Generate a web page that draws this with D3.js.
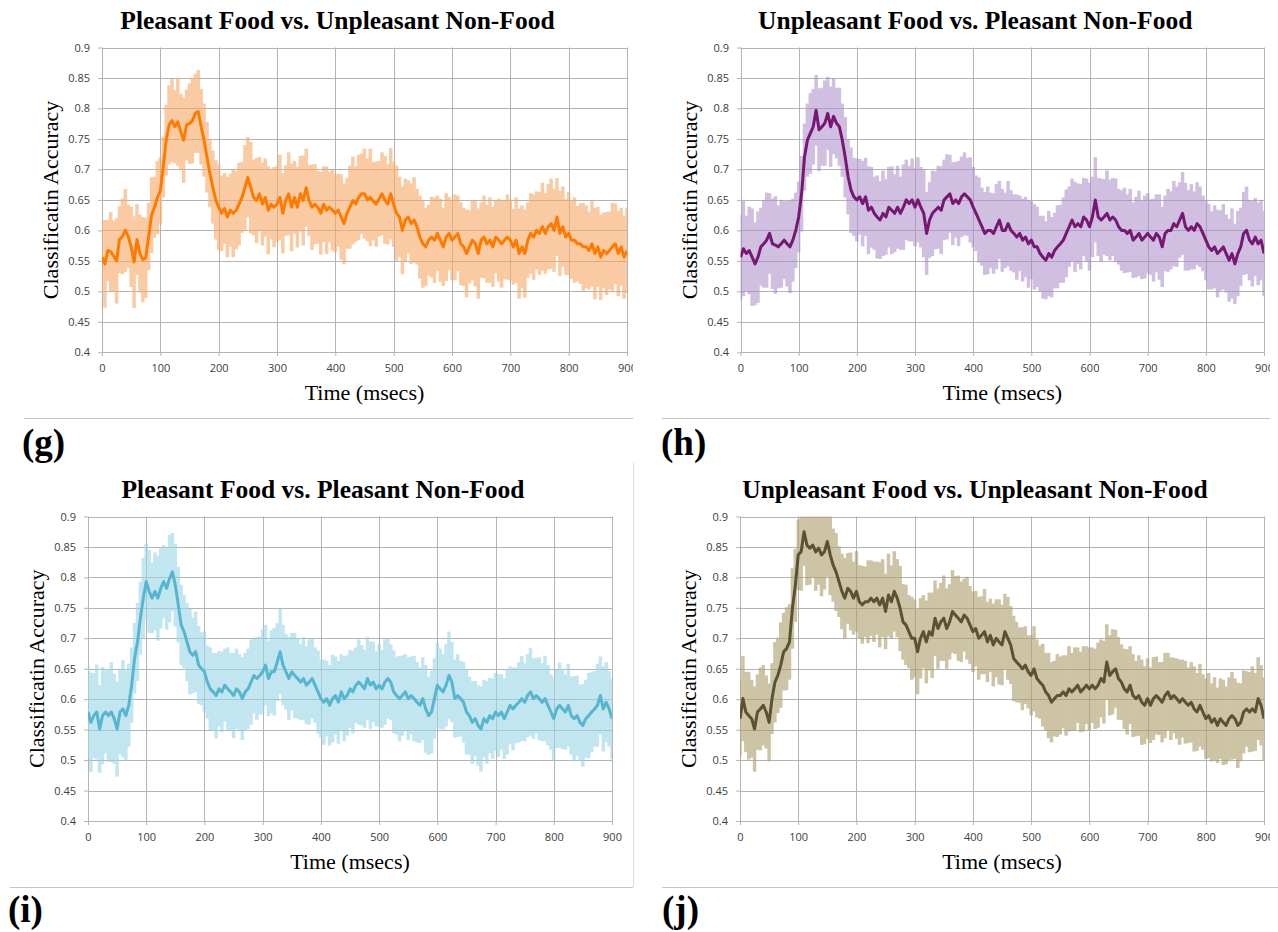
<!DOCTYPE html>
<html>
<head>
<meta charset="utf-8">
<script src="https://cdn.jsdelivr.net/npm/d3@7"></script>
<style>
  html, body { margin: 0; padding: 0; background: #ffffff; }
  svg { display: block; }
</style>
</head>
<body>
<svg id="fig" width="1278" height="932"></svg>
<script>
// ---- data ---------------------------------------------------------------
const sampleStep = 5; // ms between samples

const xTicks = [0, 100, 200, 300, 400, 500, 600, 700, 800, 900];
const xTickLabels = ["0", "100", "200", "300", "400", "500", "600", "700", "800", "900"];
const yTicks = [0.4, 0.45, 0.5, 0.55, 0.6, 0.65, 0.7, 0.75, 0.8, 0.85, 0.9];
const yTickLabels = ["0.4", "0.45", "0.5", "0.55", "0.6", "0.65", "0.7", "0.75", "0.8", "0.85", "0.9"];

const panelTitles = [
  "Pleasant Food vs. Unpleasant Non-Food",
  "Unpleasant Food vs. Pleasant Non-Food",
  "Pleasant Food vs. Pleasant Non-Food",
  "Unpleasant Food vs. Unpleasant Non-Food"
];
const panelTags = ["(g)", "(h)", "(i)", "(j)"];
const xAxisTitle = "Time (msecs)";
const yAxisTitle = "Classificatin Accuracy";

// (g) mean accuracy, one value every 5 ms from 0 to 900 ms
const meanG = [
  0.556,0.545,0.567,0.565,0.558,0.550,0.585,0.590,0.600,0.590,0.573,0.548,0.585,0.562,0.552,0.555,0.590,0.625,0.638,0.654,
  0.665,0.704,0.748,0.773,0.780,0.770,0.778,0.762,0.748,0.773,0.775,0.780,0.792,0.795,0.770,0.748,0.720,0.693,0.671,0.650,
  0.638,0.628,0.636,0.622,0.633,0.628,0.633,0.643,0.654,0.670,0.687,0.670,0.654,0.649,0.660,0.643,0.654,0.633,0.643,0.638,
  0.643,0.654,0.628,0.649,0.660,0.638,0.654,0.638,0.660,0.649,0.670,0.649,0.638,0.643,0.638,0.628,0.643,0.633,0.638,0.633,
  0.628,0.633,0.622,0.611,0.628,0.638,0.649,0.643,0.654,0.660,0.660,0.650,0.654,0.648,0.643,0.652,0.660,0.650,0.643,0.660,
  0.643,0.628,0.622,0.600,0.617,0.622,0.611,0.617,0.606,0.589,0.578,0.573,0.584,0.589,0.584,0.595,0.584,0.573,0.589,0.595,
  0.584,0.589,0.595,0.578,0.573,0.562,0.573,0.584,0.578,0.562,0.584,0.589,0.578,0.584,0.573,0.589,0.584,0.578,0.584,0.589,
  0.584,0.573,0.584,0.562,0.573,0.562,0.584,0.595,0.589,0.600,0.595,0.606,0.595,0.606,0.611,0.600,0.622,0.595,0.606,0.589,
  0.595,0.584,0.584,0.578,0.578,0.573,0.573,0.567,0.578,0.562,0.573,0.556,0.567,0.562,0.567,0.573,0.578,0.562,0.573,0.556,
  0.567
];
// (g) half-width of the spread around the mean
const errG = [
  0.060,0.072,0.050,0.065,0.058,0.070,0.055,0.062,0.068,0.052,0.066,0.075,0.058,0.064,0.070,0.066,0.055,0.062,0.050,0.060,
  0.055,0.050,0.058,0.065,0.068,0.060,0.072,0.062,0.070,0.058,0.066,0.070,0.065,0.068,0.062,0.060,0.058,0.055,0.060,0.065,
  0.070,0.062,0.058,0.066,0.060,0.072,0.064,0.068,0.058,0.070,0.066,0.075,0.062,0.070,0.060,0.068,0.064,0.072,0.058,0.066,
  0.062,0.070,0.066,0.058,0.068,0.072,0.060,0.066,0.062,0.074,0.064,0.058,0.070,0.066,0.060,0.068,0.062,0.072,0.058,0.066,
  0.064,0.060,0.070,0.066,0.058,0.068,0.072,0.062,0.070,0.066,0.074,0.068,0.080,0.064,0.070,0.062,0.068,0.072,0.066,0.075,
  0.070,0.078,0.066,0.072,0.068,0.060,0.066,0.070,0.062,0.068,0.072,0.064,0.058,0.066,0.070,0.062,0.068,0.064,0.072,0.060,
  0.066,0.070,0.062,0.068,0.064,0.072,0.060,0.066,0.070,0.074,0.062,0.068,0.064,0.070,0.066,0.060,0.068,0.072,0.064,0.070,
  0.066,0.062,0.070,0.074,0.068,0.072,0.062,0.066,0.070,0.064,0.068,0.072,0.066,0.070,0.074,0.068,0.064,0.070,0.066,0.062,
  0.068,0.064,0.070,0.062,0.066,0.072,0.068,0.064,0.070,0.075,0.066,0.070,0.062,0.068,0.064,0.072,0.066,0.070,0.064,0.068,
  0.070
];

// (h)
const meanH = [
  0.556,0.570,0.562,0.567,0.556,0.545,0.556,0.573,0.578,0.584,0.595,0.578,0.576,0.573,0.578,0.584,0.578,0.573,0.584,0.600,
  0.622,0.660,0.720,0.748,0.759,0.770,0.797,0.765,0.770,0.776,0.792,0.770,0.787,0.776,0.770,0.748,0.720,0.688,0.666,0.655,
  0.650,0.655,0.644,0.655,0.633,0.638,0.628,0.622,0.617,0.628,0.622,0.638,0.633,0.628,0.638,0.628,0.638,0.650,0.644,0.650,
  0.638,0.650,0.638,0.628,0.595,0.617,0.628,0.633,0.638,0.633,0.650,0.655,0.660,0.644,0.650,0.644,0.655,0.660,0.655,0.650,
  0.638,0.628,0.617,0.606,0.595,0.600,0.600,0.595,0.606,0.617,0.600,0.600,0.611,0.600,0.595,0.589,0.595,0.584,0.589,0.578,
  0.584,0.573,0.573,0.562,0.556,0.551,0.562,0.556,0.567,0.573,0.578,0.584,0.595,0.606,0.617,0.606,0.611,0.606,0.622,0.617,
  0.606,0.622,0.650,0.622,0.617,0.622,0.628,0.617,0.622,0.617,0.606,0.600,0.600,0.595,0.600,0.584,0.589,0.595,0.584,0.589,
  0.595,0.589,0.584,0.595,0.589,0.573,0.595,0.600,0.600,0.611,0.606,0.617,0.628,0.606,0.600,0.606,0.600,0.611,0.606,0.595,
  0.584,0.573,0.567,0.573,0.562,0.567,0.573,0.562,0.551,0.562,0.545,0.562,0.573,0.595,0.600,0.584,0.578,0.589,0.578,0.584,
  0.562
];
const errH = [
  0.070,0.078,0.062,0.072,0.080,0.068,0.075,0.064,0.072,0.078,0.066,0.074,0.080,0.068,0.072,0.064,0.070,0.076,0.068,0.062,
  0.058,0.062,0.055,0.060,0.066,0.062,0.058,0.068,0.064,0.070,0.060,0.066,0.062,0.058,0.064,0.060,0.066,0.062,0.070,0.064,
  0.068,0.062,0.070,0.064,0.072,0.066,0.060,0.068,0.064,0.070,0.062,0.066,0.072,0.064,0.068,0.060,0.070,0.066,0.062,0.068,
  0.064,0.070,0.066,0.072,0.068,0.062,0.070,0.064,0.068,0.072,0.066,0.070,0.064,0.068,0.062,0.070,0.066,0.068,0.064,0.070,
  0.066,0.062,0.070,0.064,0.068,0.072,0.062,0.066,0.070,0.064,0.068,0.062,0.070,0.066,0.064,0.070,0.062,0.068,0.066,0.072,
  0.064,0.070,0.066,0.062,0.068,0.064,0.070,0.066,0.062,0.068,0.064,0.070,0.072,0.066,0.068,0.074,0.066,0.070,0.064,0.068,
  0.072,0.066,0.070,0.064,0.068,0.062,0.070,0.066,0.064,0.068,0.062,0.066,0.070,0.064,0.068,0.062,0.066,0.070,0.064,0.068,
  0.066,0.062,0.068,0.064,0.070,0.066,0.062,0.068,0.064,0.070,0.066,0.062,0.068,0.072,0.066,0.070,0.064,0.068,0.066,0.062,
  0.066,0.070,0.064,0.068,0.072,0.066,0.070,0.064,0.068,0.074,0.066,0.070,0.064,0.068,0.072,0.066,0.070,0.064,0.068,0.066,
  0.070
];

// (i)
const meanI = [
  0.579,0.562,0.573,0.579,0.551,0.573,0.579,0.573,0.579,0.568,0.551,0.579,0.584,0.573,0.590,0.623,0.667,0.694,0.733,0.766,
  0.793,0.777,0.766,0.777,0.766,0.782,0.793,0.782,0.798,0.809,0.787,0.755,0.722,0.711,0.694,0.678,0.672,0.678,0.656,0.650,
  0.645,0.628,0.617,0.612,0.606,0.617,0.612,0.623,0.617,0.612,0.606,0.617,0.612,0.601,0.612,0.617,0.628,0.639,0.634,0.639,
  0.645,0.656,0.634,0.645,0.645,0.661,0.678,0.656,0.645,0.634,0.645,0.639,0.634,0.628,0.634,0.623,0.628,0.634,0.623,0.612,
  0.601,0.595,0.601,0.590,0.601,0.606,0.595,0.612,0.601,0.606,0.617,0.612,0.623,0.628,0.623,0.617,0.634,0.623,0.628,0.617,
  0.623,0.617,0.628,0.634,0.628,0.612,0.606,0.601,0.606,0.612,0.601,0.606,0.601,0.595,0.590,0.601,0.584,0.573,0.579,0.601,
  0.623,0.617,0.612,0.623,0.639,0.628,0.601,0.606,0.601,0.595,0.579,0.573,0.562,0.568,0.557,0.551,0.568,0.562,0.573,0.568,
  0.579,0.573,0.579,0.568,0.579,0.590,0.584,0.590,0.595,0.601,0.595,0.606,0.612,0.601,0.606,0.601,0.595,0.601,0.590,0.579,
  0.568,0.584,0.590,0.584,0.579,0.590,0.573,0.568,0.573,0.562,0.557,0.568,0.573,0.579,0.584,0.590,0.606,0.584,0.595,0.584,
  0.568
];
const errI = [
  0.075,0.082,0.070,0.078,0.072,0.080,0.068,0.076,0.082,0.074,0.078,0.070,0.080,0.074,0.068,0.062,0.058,0.064,0.060,0.066,
  0.062,0.068,0.058,0.064,0.070,0.066,0.060,0.068,0.072,0.064,0.068,0.062,0.066,0.060,0.064,0.070,0.062,0.066,0.064,0.060,
  0.066,0.060,0.068,0.064,0.070,0.062,0.066,0.060,0.068,0.064,0.070,0.066,0.062,0.068,0.064,0.066,0.070,0.062,0.068,0.064,
  0.070,0.066,0.062,0.068,0.072,0.064,0.070,0.066,0.062,0.068,0.064,0.070,0.066,0.062,0.068,0.064,0.070,0.066,0.062,0.068,
  0.064,0.070,0.062,0.066,0.072,0.064,0.068,0.062,0.070,0.066,0.064,0.068,0.062,0.070,0.066,0.064,0.068,0.072,0.066,0.062,
  0.068,0.064,0.070,0.066,0.062,0.068,0.064,0.070,0.066,0.062,0.068,0.064,0.070,0.066,0.062,0.068,0.072,0.064,0.068,0.066,
  0.070,0.066,0.062,0.068,0.072,0.066,0.064,0.068,0.062,0.066,0.070,0.064,0.068,0.062,0.066,0.070,0.064,0.068,0.062,0.066,
  0.064,0.068,0.062,0.066,0.070,0.064,0.068,0.062,0.066,0.070,0.064,0.068,0.072,0.066,0.062,0.068,0.064,0.070,0.066,0.062,
  0.068,0.064,0.070,0.066,0.062,0.068,0.064,0.070,0.066,0.062,0.068,0.064,0.070,0.066,0.062,0.068,0.064,0.070,0.066,0.062,
  0.066
];

// (j)
const meanJ = [
  0.568,0.601,0.579,0.573,0.568,0.551,0.579,0.584,0.590,0.579,0.562,0.601,0.628,0.639,0.656,0.678,0.683,0.694,0.749,0.787,
  0.837,0.842,0.875,0.853,0.848,0.853,0.842,0.848,0.837,0.842,0.859,0.837,0.820,0.809,0.793,0.777,0.766,0.782,0.777,0.766,
  0.777,0.760,0.755,0.760,0.760,0.766,0.760,0.766,0.755,0.766,0.744,0.771,0.760,0.777,0.766,0.749,0.727,0.722,0.711,0.700,
  0.700,0.678,0.700,0.711,0.694,0.711,0.705,0.733,0.716,0.727,0.733,0.716,0.727,0.744,0.738,0.733,0.727,0.738,0.733,0.722,
  0.711,0.716,0.700,0.705,0.711,0.694,0.705,0.689,0.700,0.694,0.689,0.711,0.700,0.689,0.667,0.661,0.656,0.650,0.656,0.645,
  0.639,0.650,0.634,0.628,0.623,0.612,0.606,0.595,0.601,0.606,0.606,0.612,0.606,0.617,0.612,0.617,0.623,0.612,0.617,0.623,
  0.617,0.623,0.617,0.623,0.634,0.628,0.661,0.639,0.645,0.650,0.634,0.628,0.617,0.612,0.623,0.606,0.601,0.606,0.595,0.590,
  0.601,0.590,0.601,0.606,0.601,0.595,0.606,0.612,0.601,0.606,0.601,0.595,0.601,0.595,0.590,0.595,0.584,0.579,0.590,0.579,
  0.568,0.573,0.562,0.568,0.557,0.568,0.562,0.557,0.568,0.573,0.568,0.557,0.562,0.579,0.584,0.579,0.584,0.579,0.601,0.590,
  0.568
];
const errJ = [
  0.062,0.070,0.066,0.072,0.064,0.070,0.062,0.068,0.066,0.060,0.064,0.058,0.066,0.062,0.070,0.064,0.068,0.062,0.066,0.060,
  0.058,0.064,0.056,0.066,0.060,0.054,0.064,0.060,0.068,0.062,0.058,0.066,0.060,0.064,0.058,0.062,0.066,0.058,0.064,0.060,
  0.066,0.060,0.064,0.058,0.068,0.062,0.066,0.060,0.070,0.064,0.062,0.068,0.060,0.066,0.064,0.070,0.062,0.066,0.060,0.068,
  0.064,0.070,0.066,0.060,0.068,0.064,0.070,0.062,0.066,0.064,0.070,0.066,0.062,0.068,0.064,0.070,0.066,0.060,0.068,0.064,
  0.066,0.062,0.068,0.064,0.070,0.066,0.060,0.068,0.064,0.070,0.066,0.062,0.068,0.064,0.070,0.066,0.062,0.068,0.064,0.060,
  0.066,0.070,0.064,0.060,0.068,0.064,0.070,0.066,0.062,0.068,0.064,0.060,0.066,0.070,0.064,0.068,0.062,0.066,0.070,0.064,
  0.068,0.062,0.066,0.070,0.064,0.068,0.062,0.066,0.070,0.064,0.068,0.062,0.066,0.070,0.064,0.068,0.062,0.066,0.070,0.064,
  0.066,0.062,0.068,0.064,0.060,0.066,0.070,0.064,0.068,0.062,0.066,0.070,0.064,0.068,0.062,0.066,0.070,0.064,0.068,0.062,
  0.066,0.070,0.064,0.068,0.062,0.066,0.070,0.064,0.068,0.072,0.066,0.070,0.064,0.068,0.062,0.066,0.070,0.064,0.068,0.066,
  0.068
];

// ---- layout & style ---------------------------------------------------------
const panels = [
  { mean: meanG, err: errG, dark: "#ff7b00", light: "#f7ab6a", lightOpacity: 0.62,
    plot: { x0: 102, x1: 627, y0: 47.5, y1: 352.3 }, frame: { x: 0, y: 0, w: 633, h: 463 },
    rule: { x1: 24, x2: 633, y: 418.5 }, tag: { x: 22, y: 455 } },
  { mean: meanH, err: errH, dark: "#761872", light: "#a98ac6", lightOpacity: 0.55,
    plot: { x0: 740.5, x1: 1264, y0: 47.5, y1: 352.3 }, frame: { x: 640, y: 0, w: 630, h: 463 },
    rule: { x1: 662, x2: 1270, y: 418.5 }, tag: { x: 661, y: 455 } },
  { mean: meanI, err: errI, dark: "#56b5cf", light: "#9ad5e6", lightOpacity: 0.6,
    plot: { x0: 88, x1: 612, y0: 516.5, y1: 821 }, frame: { x: 0, y: 463, w: 640, h: 469 },
    rule: { x1: 10, x2: 633, y: 887.5 }, tag: { x: 8, y: 922 } },
  { mean: meanJ, err: errJ, dark: "#5a5232", light: "#aea070", lightOpacity: 0.62,
    plot: { x0: 740, x1: 1264, y0: 516.5, y1: 821 }, frame: { x: 640, y: 463, w: 630, h: 469 },
    rule: { x1: 662, x2: 1278, y: 887.5 }, tag: { x: 662, y: 922 } }
];

const gridColor = "#b4b4b4";
const tickFont = "'Open Sans', 'DejaVu Sans', sans-serif";
const serifFont = "'Liberation Serif', 'Times New Roman', serif";

const svg = d3.select("#fig");
const defs = svg.append("defs");
const crisp = v => Math.round(v) + 0.5;

panels.forEach((p, k) => {
  const { x0, x1, y0, y1 } = p.plot;
  const x = d3.scaleLinear().domain([0, 900]).range([x0, x1]);
  const y = d3.scaleLinear().domain([0.4, 0.9]).range([y1, y0]);

  defs.append("clipPath").attr("id", "frame" + k)
    .append("rect").attr("x", p.frame.x).attr("y", p.frame.y)
    .attr("width", p.frame.w).attr("height", p.frame.h);
  defs.append("clipPath").attr("id", "plot" + k)
    .append("rect").attr("x", x0).attr("y", y0)
    .attr("width", x1 - x0).attr("height", y1 - y0);

  const root = svg.append("g").attr("clip-path", `url(#frame${k})`);

  // gridlines
  const grid = root.append("g").attr("stroke", gridColor).attr("stroke-width", 1);
  grid.selectAll("line.v").data(xTicks).join("line").attr("class", "v")
    .attr("x1", d => crisp(x(d))).attr("x2", d => crisp(x(d)))
    .attr("y1", y0).attr("y2", y1);
  grid.selectAll("line.h").data(yTicks).join("line").attr("class", "h")
    .attr("x1", x0).attr("x2", x1)
    .attr("y1", d => crisp(y(d))).attr("y2", d => crisp(y(d)));

  // axes
  const yAxis = d3.axisLeft(y).tickValues(yTicks)
    .tickFormat((d, i) => yTickLabels[i]).tickSizeInner(4).tickSizeOuter(0).tickPadding(8);
  const xAxis = d3.axisBottom(x).tickValues(xTicks)
    .tickFormat((d, i) => xTickLabels[i]).tickSizeInner(4).tickSizeOuter(0).tickPadding(8);
  const ya = root.append("g").attr("transform", `translate(${Math.round(x0)},0)`).call(yAxis);
  const xa = root.append("g").attr("transform", `translate(0,${Math.round(y1)})`).call(xAxis);
  [ya, xa].forEach(a => {
    a.select(".domain").attr("stroke", gridColor);
    a.selectAll(".tick line").attr("stroke", gridColor);
    a.selectAll(".tick text").attr("fill", "#404040")
      .style("font-family", tickFont).style("font-size", "11px");
  });

  // samples
  const n = Math.min(p.mean.length, p.err.length);
  const pts = d3.range(n).map(i => ({ t: i * sampleStep, v: p.mean[i], e: p.err[i] }));
  const barWidth = (x(sampleStep) - x(0)) + 0.6;

  const marks = root.append("g").attr("clip-path", `url(#plot${k})`);
  // spread: one vertical bar per sample, composited as a single translucent layer
  marks.append("g").attr("opacity", p.lightOpacity)
    .selectAll("line").data(pts).join("line")
    .attr("x1", d => x(d.t)).attr("x2", d => x(d.t))
    .attr("y1", d => y(d.v - d.e)).attr("y2", d => y(d.v + d.e))
    .attr("stroke", p.light).attr("stroke-width", barWidth);
  // mean trace
  marks.append("path").datum(pts)
    .attr("fill", "none").attr("stroke", p.dark)
    .attr("stroke-width", 3).attr("stroke-linejoin", "round")
    .attr("d", d3.line().x(d => x(d.t)).y(d => y(d.v)));

  // titles
  root.append("text")
    .attr("x", (x0 + x1) / 2 - 27).attr("y", y0 - 18.5)
    .attr("text-anchor", "middle")
    .style("font-family", serifFont).style("font-weight", "bold").style("font-size", "25.5px")
    .text(panelTitles[k]);
  root.append("text")
    .attr("x", (x0 + x1) / 2).attr("y", y1 + 48)
    .attr("text-anchor", "middle")
    .style("font-family", serifFont).style("font-size", "22px")
    .text(xAxisTitle);
  root.append("text")
    .attr("transform", `translate(${x0 - 44},${(y0 + y1) / 2}) rotate(-90)`)
    .attr("text-anchor", "middle")
    .style("font-family", serifFont).style("font-size", "22px")
    .text(yAxisTitle);

  // panel separator and tag
  svg.append("line")
    .attr("x1", p.rule.x1).attr("x2", p.rule.x2)
    .attr("y1", p.rule.y).attr("y2", p.rule.y)
    .attr("stroke", "#c4c4c4").attr("stroke-width", 1.2);
  svg.append("text")
    .attr("x", p.tag.x).attr("y", p.tag.y)
    .style("font-family", serifFont).style("font-weight", "bold").style("font-size", "37px")
    .text(panelTags[k]);
});

// right-hand border of panel (i)
svg.append("line")
  .attr("x1", 633.5).attr("x2", 633.5).attr("y1", 463).attr("y2", 887)
  .attr("stroke", "#dcdcdc").attr("stroke-width", 1);
</script>
</body>
</html>
